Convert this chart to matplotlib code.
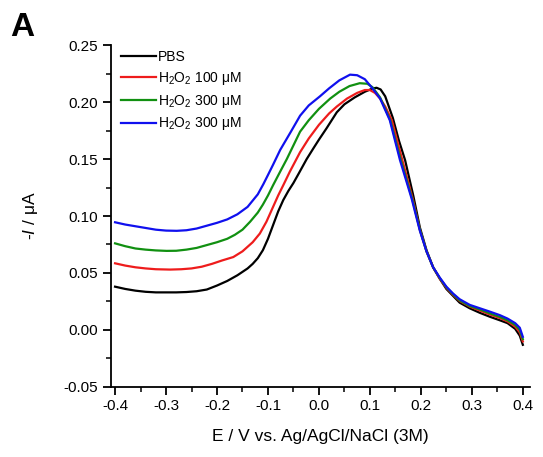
import matplotlib
matplotlib.use("Agg")
import matplotlib.pyplot as plt
from matplotlib.ticker import MultipleLocator

plt.rcParams['font.family'] = ['Liberation Sans', 'DejaVu Sans']
plt.rcParams['mathtext.fontset'] = 'custom'
plt.rcParams['mathtext.rm'] = 'Liberation Sans'
plt.rcParams['mathtext.it'] = 'Liberation Sans:italic'

# ---- data ----
pbs_E = [-0.4, -0.38, -0.36, -0.34, -0.32, -0.30, -0.28, -0.26, -0.24, -0.22, -0.20, -0.18,
         -0.16, -0.14, -0.13, -0.12, -0.11, -0.10, -0.09, -0.08, -0.07, -0.06, -0.05, -0.04,
         -0.024, -0.01, 0.0, 0.015, 0.035, 0.05, 0.07, 0.09, 0.105, 0.113, 0.121, 0.13, 0.145,
         0.157, 0.169, 0.185, 0.198, 0.211, 0.224, 0.237, 0.25, 0.263, 0.276, 0.296, 0.316,
         0.336, 0.355, 0.37, 0.385, 0.394, 0.4]
pbs_I = [0.038, 0.036, 0.0345, 0.0335, 0.033, 0.033, 0.033, 0.0333, 0.034, 0.0355, 0.039, 0.043,
         0.048, 0.054, 0.058, 0.063, 0.070, 0.080, 0.092, 0.104, 0.114, 0.122, 0.129, 0.137,
         0.150, 0.160, 0.167, 0.177, 0.191, 0.198, 0.204, 0.209, 0.2118, 0.2125, 0.211, 0.205, 0.186,
         0.166, 0.149, 0.118, 0.090, 0.070, 0.055, 0.045, 0.036, 0.030, 0.024, 0.019, 0.015,
         0.0115, 0.0085, 0.006, 0.001, -0.005, -0.013]

h100_E = [-0.4, -0.38, -0.36, -0.34, -0.32, -0.292, -0.27, -0.25, -0.23, -0.21, -0.19, -0.168,
          -0.15, -0.13, -0.116, -0.103, -0.09, -0.08, -0.07, -0.057, -0.037, -0.02, 0.0, 0.02,
          0.035, 0.055, 0.075, 0.09, 0.1, 0.11, 0.12, 0.13, 0.143, 0.163, 0.184, 0.198, 0.211,
          0.224, 0.237, 0.25, 0.263, 0.276, 0.296, 0.316, 0.336, 0.355, 0.37, 0.385, 0.394, 0.4]
h100_I = [0.0585, 0.0565, 0.055, 0.054, 0.0533, 0.053, 0.0533, 0.054, 0.0555, 0.058, 0.061, 0.064,
          0.069, 0.077, 0.0846, 0.095, 0.108, 0.118, 0.127, 0.139, 0.156, 0.168, 0.180, 0.190,
          0.196, 0.203, 0.208, 0.2105, 0.2105, 0.208, 0.203, 0.196, 0.184, 0.150, 0.115, 0.088, 0.069,
          0.055, 0.045, 0.037, 0.031, 0.0255, 0.0205, 0.017, 0.0135, 0.0105, 0.0075, 0.003, -0.002,
          -0.010]

h300a_E = [-0.4, -0.38, -0.36, -0.34, -0.32, -0.299, -0.28, -0.26, -0.24, -0.22, -0.2, -0.18,
           -0.165, -0.15, -0.135, -0.12, -0.11, -0.10, -0.09, -0.076, -0.063, -0.05, -0.037, -0.02,
           0.0, 0.022, 0.04, 0.06, 0.08, 0.095, 0.105, 0.12, 0.14, 0.16, 0.183, 0.198, 0.211, 0.224,
           0.237, 0.25, 0.263, 0.276, 0.296, 0.316, 0.336, 0.355, 0.37, 0.385, 0.394, 0.4]
h300a_I = [0.076, 0.0735, 0.0715, 0.0705, 0.0698, 0.0694, 0.0695, 0.0705, 0.072, 0.0745, 0.077, 0.080,
           0.0835, 0.088, 0.095, 0.103, 0.110, 0.118, 0.127, 0.139, 0.150, 0.162, 0.174, 0.184,
           0.194, 0.203, 0.209, 0.214, 0.2165, 0.216, 0.213, 0.204, 0.184, 0.150, 0.115, 0.088, 0.069,
           0.055, 0.0455, 0.0375, 0.0315, 0.026, 0.021, 0.018, 0.0145, 0.0115, 0.0085, 0.0045, 0.000,
           -0.008]

h300b_E = [-0.4, -0.38, -0.36, -0.34, -0.32, -0.30, -0.279, -0.26, -0.24, -0.22, -0.20, -0.18,
           -0.16, -0.14, -0.12, -0.109, -0.10, -0.09, -0.076, -0.055, -0.037, -0.02, 0.002, 0.02,
           0.04, 0.061, 0.075, 0.09, 0.105, 0.12, 0.139, 0.159, 0.182, 0.198, 0.211, 0.224, 0.237,
           0.25, 0.263, 0.276, 0.296, 0.316, 0.336, 0.355, 0.37, 0.385, 0.394, 0.4]
h300b_I = [0.0945, 0.0925, 0.091, 0.0895, 0.088, 0.0872, 0.087, 0.0875, 0.089, 0.0915, 0.094, 0.097,
           0.1015, 0.108, 0.119, 0.128, 0.136, 0.145, 0.158, 0.174, 0.188, 0.197, 0.205, 0.212,
           0.219, 0.224, 0.2235, 0.220, 0.212, 0.203, 0.184, 0.149, 0.115, 0.087, 0.069, 0.055, 0.046,
           0.038, 0.032, 0.027, 0.022, 0.019, 0.016, 0.013, 0.010, 0.006, 0.002, -0.006]

labels = ['PBS', r'H$_2$O$_2$ 100 μM', r'H$_2$O$_2$ 300 μM', r'H$_2$O$_2$ 300 μM']
colors = ['black', '#ee1c1c', '#119011', '#1010ee']

xticks = [-0.4, -0.3, -0.2, -0.1, 0.0, 0.1, 0.2, 0.3, 0.4]
yticks = [-0.05, 0.00, 0.05, 0.10, 0.15, 0.20, 0.25]

fig = plt.figure(figsize=(5.43, 4.57), dpi=100)
ax = fig.add_axes([0.2044, 0.1532, 0.7716, 0.7483])

series = [(pbs_E, pbs_I), (h100_E, h100_I), (h300a_E, h300a_I), (h300b_E, h300b_I)]
for (E, I), lab, c in zip(series, labels, colors):
    ax.plot(E, I, color=c, lw=1.6, label=lab, solid_joinstyle='round')

ax.set_xlim(-0.408, 0.414)
ax.set_ylim(-0.05, 0.25)
ax.set_xticks(xticks)
ax.set_xticklabels([f"{v:.1f}" for v in xticks])
ax.set_yticks(yticks)
ax.set_yticklabels([f"{v:.2f}" for v in yticks])
ax.xaxis.set_minor_locator(MultipleLocator(0.05))
ax.yaxis.set_minor_locator(MultipleLocator(0.025))

for s in ['top', 'right']:
    ax.spines[s].set_visible(False)
for s in ['left', 'bottom']:
    ax.spines[s].set_linewidth(1.3)
ax.tick_params(which='major', direction='out', length=6, width=1.3, labelsize=11, pad=3)
ax.tick_params(which='minor', direction='out', length=3.5, width=1.1)

ax.set_xlabel('E / V vs. Ag/AgCl/NaCl (3M)', fontsize=12.5, labelpad=11)
ax.set_ylabel(r'-$\mathit{I}$ / μA', fontsize=12.5, labelpad=17)

leg = ax.legend(loc='upper left', bbox_to_anchor=(0.005, 1.01), frameon=False, fontsize=10,
                handlelength=2.5, handletextpad=0.15, labelspacing=0.42, borderaxespad=0.2)

fig.text(0.018, 0.922, 'A', fontsize=24, fontweight='bold')

fig.savefig('out.png', dpi=100)
